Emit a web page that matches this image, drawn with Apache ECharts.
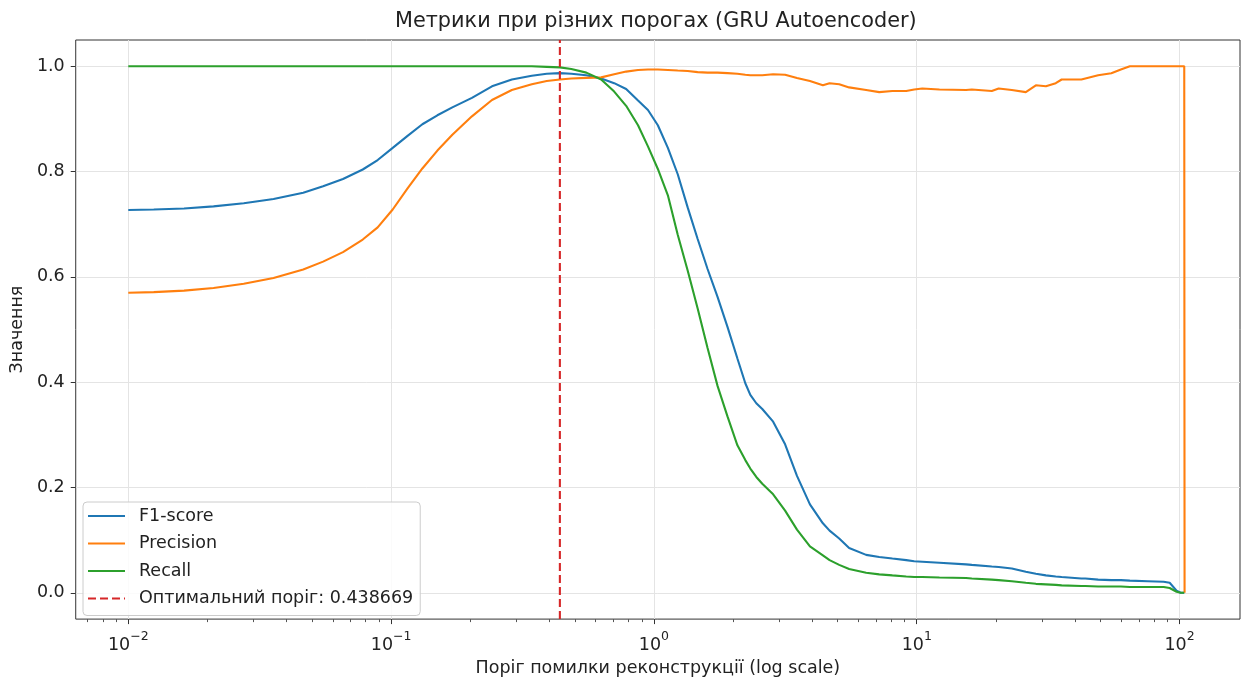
<!DOCTYPE html>
<html>
<head>
<meta charset="utf-8">
<script src="https://cdn.jsdelivr.net/npm/echarts@6/dist/echarts.min.js"></script>
<style>
  html, body { margin: 0; padding: 0; background: #ffffff; }
  #chart { width: 1241px; height: 682px; }
</style>
</head>
<body>
<div id="chart"></div>
<script>
// Reconstruction-error thresholds and the metrics computed at each of them
const thresholds = [
  0.0100, 0.0125, 0.0163, 0.0211, 0.0275, 0.0357, 0.0463, 0.0551, 0.0656, 0.0780,
  0.0889, 0.1014, 0.1155, 0.1315, 0.150, 0.171, 0.203, 0.242, 0.288, 0.343,
  0.391, 0.4387, 0.485, 0.553, 0.630, 0.706, 0.784, 0.870, 0.949, 1.035,
  1.13, 1.232, 1.344, 1.467, 1.60, 1.746, 1.905, 2.078, 2.227, 2.327,
  2.452, 2.584, 2.842, 3.156, 3.502, 3.923, 4.394, 4.66, 5.07, 5.53,
  6.42, 7.20, 8.08, 9.12, 9.78, 10.5, 12.2, 15.4, 16.2, 19.3,
  20.5, 23.0, 26.0, 28.4, 31.0, 33.8, 35.6, 42.3, 43.8, 49.0,
  55.0, 59.8, 64.7, 75.7, 87.0, 91.7, 97.4, 100.9, 104.2, 104.5
];
const f1Score = [
  0.727, 0.728, 0.730, 0.734, 0.740, 0.748, 0.760, 0.772, 0.786, 0.804,
  0.822, 0.845, 0.868, 0.890, 0.907, 0.922, 0.940, 0.962, 0.975, 0.982,
  0.986, 0.987, 0.986, 0.983, 0.977, 0.968, 0.957, 0.935, 0.917, 0.888,
  0.845, 0.795, 0.732, 0.672, 0.615, 0.562, 0.505, 0.445, 0.398, 0.376,
  0.360, 0.349, 0.325, 0.282, 0.222, 0.168, 0.132, 0.118, 0.103, 0.085,
  0.072, 0.068, 0.065, 0.062, 0.060, 0.059, 0.057, 0.054, 0.053, 0.050,
  0.049, 0.046, 0.040, 0.036, 0.033, 0.031, 0.030, 0.027, 0.027, 0.025,
  0.024, 0.024, 0.023, 0.022, 0.021, 0.019, 0.004, 0.000, 0.000, 0.000
];
const precision = [
  0.570, 0.571, 0.574, 0.579, 0.587, 0.598, 0.614, 0.629, 0.647, 0.671,
  0.694, 0.728, 0.768, 0.806, 0.840, 0.870, 0.905, 0.936, 0.955, 0.966,
  0.972, 0.975, 0.977, 0.978, 0.979, 0.985, 0.990, 0.993, 0.994, 0.994,
  0.993, 0.992, 0.991, 0.989, 0.988, 0.988, 0.987, 0.986, 0.984, 0.983,
  0.983, 0.983, 0.985, 0.984, 0.978, 0.972, 0.964, 0.968, 0.966, 0.960,
  0.955, 0.951, 0.953, 0.953, 0.956, 0.958, 0.956, 0.955, 0.956, 0.953,
  0.958, 0.955, 0.951, 0.964, 0.962, 0.968, 0.975, 0.975, 0.977, 0.983,
  0.987, 0.994, 1.000, 1.000, 1.000, 1.000, 1.000, 1.000, 1.000, 0.000
];
const recall = [
  1.000, 1.000, 1.000, 1.000, 1.000, 1.000, 1.000, 1.000, 1.000, 1.000,
  1.000, 1.000, 1.000, 1.000, 1.000, 1.000, 1.000, 1.000, 1.000, 1.000,
  0.999, 0.998, 0.995, 0.988, 0.975, 0.952, 0.925, 0.888, 0.848, 0.805,
  0.755, 0.680, 0.612, 0.540, 0.465, 0.393, 0.335, 0.280, 0.252, 0.236,
  0.220, 0.207, 0.187, 0.156, 0.120, 0.088, 0.071, 0.062, 0.053, 0.045,
  0.038, 0.035, 0.033, 0.031, 0.030, 0.030, 0.029, 0.028, 0.027, 0.025,
  0.024, 0.022, 0.019, 0.017, 0.016, 0.015, 0.014, 0.013, 0.013, 0.012,
  0.012, 0.012, 0.011, 0.011, 0.011, 0.009, 0.002, 0.000, 0.000, 0.000
];
const optimalThreshold = 0.438669;

// Axis ranges (x in decades) and tick positions
const xDecadeRange = [-2.2, 2.23];
const xTickExponents = [-2, -1, 0, 1, 2];
const yRange = [-0.05, 1.05];
const yTickValues = [0, 0.2, 0.4, 0.6, 0.8, 1.0];

const FONT = 'DejaVu Sans';
const log10 = v => Math.log10(v);
const toPoints = values => thresholds.map((t, i) => [log10(t), values[i]]);

// minor ticks at 2..9 x 10^k inside the visible range
const minorTickPositions = [];
for (let e = -3; e <= 2; e++) {
  for (let m = 2; m <= 9; m++) {
    const p = log10(m * Math.pow(10, e));
    if (p > xDecadeRange[0] && p < xDecadeRange[1]) minorTickPositions.push(p);
  }
}

// legend glyphs: a solid stroke and a dashed stroke
const SOLID_ICON = 'path://M0,0H37V2H0Z';
const DASHED_ICON = 'path://M0,0H8V2H0Z M12,0H20V2H12Z M24,0H32V2H24Z M36,0H37V2H36Z';

const chart = echarts.init(document.getElementById('chart'), null, { renderer: 'canvas' });

const lineSeries = (name, values, color) => ({
  name,
  type: 'line',
  data: toPoints(values),
  showSymbol: false,
  symbol: 'none',
  color,
  lineStyle: { color, width: 2.1 },
  emphasis: { disabled: true }
});

chart.setOption({
  animation: false,
  backgroundColor: '#ffffff',
  title: {
    text: 'Метрики при різних порогах (GRU Autoencoder)',
    left: 395,
    top: 0,
    padding: [11, 0, 0, 0],
    textStyle: { fontFamily: FONT, fontSize: 20.8, fontWeight: 'normal', color: '#222' }
  },
  grid: {
    left: 73, right: 1, top: 40, bottom: 61,
    show: true, borderColor: '#333', borderWidth: 1, backgroundColor: 'transparent'
  },
  legend: {
    orient: 'vertical',
    left: 83,
    top: 502,
    padding: [5, 7, 8, 5],
    itemWidth: 37,
    itemHeight: 2.1,
    itemGap: 9.5,
    backgroundColor: 'rgba(255,255,255,0.85)',
    borderColor: '#cccccc',
    borderWidth: 1,
    borderRadius: 4,
    textStyle: { fontFamily: FONT, fontSize: 17.5, color: '#222', padding: [0, 0, 0, 9] },
    data: [
      { name: 'F1-score', icon: SOLID_ICON },
      { name: 'Precision', icon: SOLID_ICON },
      { name: 'Recall', icon: SOLID_ICON },
      { name: 'Оптимальний поріг: 0.438669', icon: DASHED_ICON }
    ]
  },
  xAxis: [{
    type: 'value',
    position: 'bottom',
    min: xDecadeRange[0],
    max: xDecadeRange[1],
    name: 'Поріг помилки реконструкції (log scale)',
    nameLocation: 'middle',
    nameGap: 36,
    nameTextStyle: { fontFamily: FONT, fontSize: 17.5, color: '#222' },
    axisLine: { show: false, onZero: false },
    axisTick: { show: true, customValues: xTickExponents, length: 5, lineStyle: { color: '#333', width: 1 } },
    axisLabel: {
      customValues: xTickExponents,
      margin: 11,
      formatter: v => '{b|10}{s|' + String(Math.round(v)).replace('-', '\u2212') + '}',
      rich: {
        b: { fontFamily: FONT, fontSize: 17.5, color: '#222', lineHeight: 24, verticalAlign: 'bottom' },
        s: { fontFamily: FONT, fontSize: 12.5, color: '#222', lineHeight: 24, verticalAlign: 'top' }
      }
    },
    splitLine: { show: true, lineStyle: { color: '#e4e4e4', width: 1 } }
  }, {
    type: 'value',
    position: 'bottom',
    min: xDecadeRange[0],
    max: xDecadeRange[1],
    axisLine: { show: false, onZero: false },
    axisTick: { show: true, customValues: minorTickPositions, length: 3, lineStyle: { color: '#555', width: 1 } },
    axisLabel: { show: false },
    splitLine: { show: false }
  }],
  yAxis: {
    type: 'value',
    position: 'left',
    min: yRange[0],
    max: yRange[1],
    name: 'Значення',
    nameLocation: 'middle',
    nameGap: 48,
    nameTextStyle: { fontFamily: FONT, fontSize: 17.5, color: '#222' },
    axisLine: { show: false, onZero: false },
    axisTick: { show: true, customValues: yTickValues, length: 5, lineStyle: { color: '#333', width: 1 } },
    axisLabel: {
      customValues: yTickValues,
      margin: 11,
      fontFamily: FONT, fontSize: 17.5, color: '#222',
      formatter: v => v.toFixed(1)
    },
    splitLine: { show: true, lineStyle: { color: '#e4e4e4', width: 1 } }
  },
  series: [
    lineSeries('F1-score', f1Score, '#1f77b4'),
    lineSeries('Precision', precision, '#ff7f0e'),
    lineSeries('Recall', recall, '#2ca02c'),
    {
      name: 'Оптимальний поріг: 0.438669',
      type: 'line',
      data: [[log10(optimalThreshold), yRange[0]], [log10(optimalThreshold), yRange[1]]],
      symbol: 'none',
      showSymbol: false,
      color: '#d62728',
      lineStyle: { color: '#d62728', width: 2.1, type: [8, 4] },
      emphasis: { disabled: true }
    }
  ]
});
</script>
</body>
</html>
